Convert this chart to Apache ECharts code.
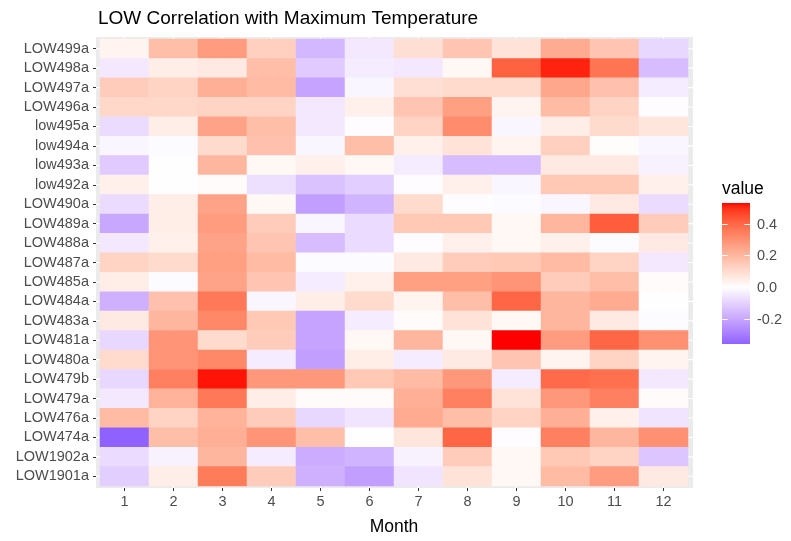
<!DOCTYPE html>
<html>
<head>
<meta charset="utf-8">
<script src="https://cdn.jsdelivr.net/npm/echarts@6/dist/echarts.min.js"></script>
<style>html,body{margin:0;padding:0;background:#fff}#c{width:791px;height:541px}</style>
</head>
<body>
<div id="c"></div>
<script>
const months = ['1','2','3','4','5','6','7','8','9','10','11','12'];
const stations = ['LOW499a','LOW498a','LOW497a','LOW496a','low495a','low494a','low493a','low492a','LOW490a','LOW489a','LOW488a','LOW487a','LOW485a','LOW484a','LOW483a','LOW481a','LOW480a','LOW479b','LOW479a','LOW476a','LOW474a','LOW1902a','LOW1901a'];
const legendTicks = [0.4, 0.2, 0.0, -0.2];

const LOW499a  = [0.03, 0.18, 0.27, 0.13, -0.16, -0.05, 0.09, 0.16, 0.08, 0.23, 0.16, -0.09];
const LOW498a  = [-0.05, 0.05, 0.06, 0.18, -0.12, -0.04, -0.05, 0.02, 0.41, 0.51, 0.37, -0.15];
const LOW497a  = [0.14, 0.12, 0.22, 0.19, -0.21, -0.02, 0.09, 0.10, 0.10, 0.24, 0.17, -0.04];
const LOW496a  = [0.11, 0.11, 0.12, 0.12, -0.05, 0.04, 0.16, 0.26, 0.03, 0.19, 0.12, 0.00];
const low495a  = [-0.08, 0.05, 0.25, 0.18, -0.05, 0.00, 0.12, 0.31, -0.02, 0.05, 0.10, 0.07];
const low494a  = [-0.02, -0.01, 0.10, 0.17, -0.02, 0.18, 0.04, 0.08, 0.03, 0.13, 0.005, -0.02];
const low493a  = [-0.12, -0.005, 0.20, 0.02, 0.04, 0.02, -0.04, -0.15, -0.15, 0.06, 0.06, -0.03];
const low492a  = [0.04, -0.005, 0.01, -0.07, -0.14, -0.11, 0.00, 0.04, -0.02, 0.15, 0.15, 0.04];
const LOW490a  = [-0.08, 0.05, 0.25, 0.02, -0.22, -0.17, 0.10, 0.00, -0.01, -0.02, 0.06, -0.08];
const LOW489a  = [-0.20, 0.05, 0.27, 0.14, -0.02, -0.08, 0.15, 0.15, 0.02, 0.20, 0.42, 0.14];
const LOW488a  = [-0.05, 0.04, 0.25, 0.16, -0.15, -0.08, 0.00, 0.04, 0.02, 0.04, -0.01, 0.06];
const LOW487a  = [0.12, 0.10, 0.26, 0.19, -0.01, -0.01, 0.06, 0.14, 0.15, 0.19, 0.12, -0.05];
const LOW485a  = [0.05, -0.01, 0.25, 0.16, -0.04, 0.04, 0.26, 0.26, 0.29, 0.14, 0.18, 0.01];
const LOW484a  = [-0.18, 0.17, 0.36, -0.02, 0.05, 0.10, 0.03, 0.18, 0.40, 0.20, 0.23, -0.005];
const LOW483a  = [0.06, 0.20, 0.32, 0.15, -0.21, -0.04, 0.01, 0.08, 0.02, 0.20, 0.06, -0.01];
const LOW481a  = [-0.09, 0.29, 0.10, 0.14, -0.21, 0.02, 0.20, 0.02, 0.53, 0.27, 0.40, 0.30];
const LOW480a  = [0.10, 0.29, 0.32, -0.04, -0.22, 0.05, -0.04, 0.06, 0.16, 0.03, 0.12, 0.03];
const LOW479b  = [-0.09, 0.34, 0.52, 0.28, 0.28, 0.15, 0.19, 0.28, -0.04, 0.39, 0.38, -0.05];
const LOW479a  = [-0.05, 0.21, 0.36, 0.05, 0.01, 0.01, 0.22, 0.34, 0.08, 0.28, 0.34, 0.01];
const LOW476a  = [0.19, 0.12, 0.21, 0.14, -0.09, -0.06, 0.23, 0.18, 0.12, 0.22, 0.04, -0.06];
const LOW474a  = [-0.36, 0.18, 0.22, 0.29, 0.18, -0.005, 0.07, 0.40, 0.00, 0.34, 0.20, 0.30];
const LOW1902a = [-0.08, -0.03, 0.20, -0.04, -0.19, -0.17, -0.03, 0.14, 0.02, 0.15, 0.12, -0.13];
const LOW1901a = [-0.11, 0.05, 0.35, 0.14, -0.18, -0.22, -0.06, 0.08, 0.02, 0.19, 0.27, 0.06];

const rowsValues = [LOW499a, LOW498a, LOW497a, LOW496a, low495a, low494a, low493a, low492a, LOW490a, LOW489a, LOW488a, LOW487a, LOW485a, LOW484a, LOW483a, LOW481a, LOW480a, LOW479b, LOW479a, LOW476a, LOW474a, LOW1902a, LOW1901a];

// ---- Lab colour interpolation (like ggplot2 scale_fill_gradient2) ----
function lin(c){c/=255;return c<=0.04045?c/12.92:Math.pow((c+0.055)/1.055,2.4);}
function unlin(c){c=c<=0.0031308?12.92*c:1.055*Math.pow(c,1/2.4)-0.055;return Math.max(0,Math.min(255,Math.round(c*255)));}
const Xn=0.95047,Yn=1,Zn=1.08883;
function f(t){return t>0.008856?Math.cbrt(t):7.787*t+16/116;}
function fi(t){return t>0.206893?t*t*t:(t-16/116)/7.787;}
function toLab(rgb){const R=lin(rgb[0]),G=lin(rgb[1]),B=lin(rgb[2]);
  const X=0.4124*R+0.3576*G+0.1805*B, Y=0.2126*R+0.7152*G+0.0722*B, Z=0.0193*R+0.1192*G+0.9505*B;
  const fx=f(X/Xn),fy=f(Y/Yn),fz=f(Z/Zn);return [116*fy-16,500*(fx-fy),200*(fy-fz)];}
function fromLab(l){const fy=(l[0]+16)/116,fx=fy+l[1]/500,fz=fy-l[2]/200;
  const X=Xn*fi(fx),Y=Yn*fi(fy),Z=Zn*fi(fz);
  const R=3.2406*X-1.5372*Y-0.4986*Z,G=-0.9689*X+1.8758*Y+0.0415*Z,B=0.0557*X-0.2040*Y+1.0570*Z;
  return 'rgb('+unlin(R)+','+unlin(G)+','+unlin(B)+')';}
const labLow=toLab([0,0,255]), labMid=toLab([255,255,255]), labHigh=toLab([255,0,0]);
let all=[]; rowsValues.forEach(r=>all=all.concat(r));
const dmin=Math.min(...all), dmax=Math.max(...all);
const absMax=Math.max(Math.abs(dmin),Math.abs(dmax));
function colorOf(v){const t=v/absMax;const a=labMid,b=t<0?labLow:labHigh;const s=Math.abs(t);
  return fromLab([a[0]+(b[0]-a[0])*s,a[1]+(b[1]-a[1])*s,a[2]+(b[2]-a[2])*s]);}
const NSTOP=60; const stops=[];
for(let i=0;i<=NSTOP;i++){stops.push(colorOf(dmin+(dmax-dmin)*i/NSTOP));}

const data=[];
rowsValues.forEach((r,yi)=>r.forEach((v,xi)=>data.push([xi,yi,v])));

// layout
const G={left:100,top:39,right:103,bottom:55};
const W=791,H=541;
const gx0=G.left, gx1=W-G.right, gy0=G.top, gy1=H-G.bottom;
const barX=722, barY=203, barW=28, barH=141;
function barPos(v){return barY+(dmax-v)/(dmax-dmin)*barH;}
const FONT='Liberation Sans, Arial, sans-serif';

const graphics=[
  {type:'rect',z:-10,shape:{x:gx0-4,y:gy0-2,width:(gx1-gx0)+9,height:(gy1-gy0)+4},style:{fill:'#EBEBEB'}},
  {type:'text',left:722,top:180,style:{text:'value',fontSize:17.5,fill:'#000',fontFamily:FONT}},
  {type:'rect',shape:{x:barX,y:barY,width:barW,height:barH},style:{fill:new echarts.graphic.LinearGradient(0,0,0,1,stops.slice().reverse().map((c,i)=>({offset:i/NSTOP,color:c})))}}
];
legendTicks.forEach(t=>{const y=Math.round(barPos(t))+0.5;
  graphics.push({type:'line',shape:{x1:barX,y1:y,x2:barX+5.6,y2:y},style:{stroke:'#fff',lineWidth:1}});
  graphics.push({type:'line',shape:{x1:barX+barW-5.6,y1:y,x2:barX+barW,y2:y},style:{stroke:'#fff',lineWidth:1}});
  graphics.push({type:'text',x:757,y:y,style:{text:t.toFixed(1),fontSize:14.5,fill:'#4D4D4D',textVerticalAlign:'middle',verticalAlign:'middle',fontFamily:FONT}});
});

const chart=echarts.init(document.getElementById('c'),null,{renderer:'canvas'});
chart.setOption({
  animation:false,
  backgroundColor:'#fff',
  textStyle:{fontFamily:FONT},
  title:{text:'LOW Correlation with Maximum Temperature',left:93,top:4,textStyle:{fontSize:19,fontWeight:'normal',color:'#000',fontFamily:FONT}},
  grid:{left:G.left,right:G.right,top:G.top,bottom:G.bottom,containLabel:false},
  xAxis:{type:'category',data:months,offset:2,name:'Month',nameLocation:'middle',nameGap:30,
    nameTextStyle:{fontSize:17.5,color:'#000'},
    axisLine:{show:false},axisTick:{show:true,alignWithLabel:true,length:3,lineStyle:{color:'#333'}},
    axisLabel:{color:'#4D4D4D',fontSize:14.5,margin:6,interval:0},splitLine:{show:false}},
  yAxis:{type:'category',data:stations,inverse:true,offset:4,
    axisLine:{show:false},axisTick:{show:true,alignWithLabel:true,length:3,lineStyle:{color:'#333'}},
    axisLabel:{color:'#4D4D4D',fontSize:14.5,margin:7,interval:0,hideOverlap:false},splitLine:{show:false}},
  visualMap:{show:false,type:'continuous',min:dmin,max:dmax,dimension:2,inRange:{color:stops}},
  graphic:graphics,
  series:[
    {type:'custom',z:1,silent:true,clip:false,
     data:months.map((m,i)=>[i]).concat(stations.map((s,i)=>[-1,i])),
     renderItem:function(params,api){
       const xi=api.value(0), yi=api.value(1);
       if(xi>=0){const p=api.coord([xi,0]);
         return {type:'line',shape:{x1:p[0],y1:gy0-2,x2:p[0],y2:gy1+2},style:{stroke:'#fff',lineWidth:1.1}};}
       const p=api.coord([0,yi]);
       return {type:'line',shape:{x1:gx0-4,y1:p[1],x2:gx1+5,y2:p[1]},style:{stroke:'#fff',lineWidth:1.1}};
     },encode:{x:0,y:1}},
    {type:'heatmap',z:2,data:data,itemStyle:{borderWidth:0},emphasis:{disabled:true}}
  ]
});
</script>
</body>
</html>
